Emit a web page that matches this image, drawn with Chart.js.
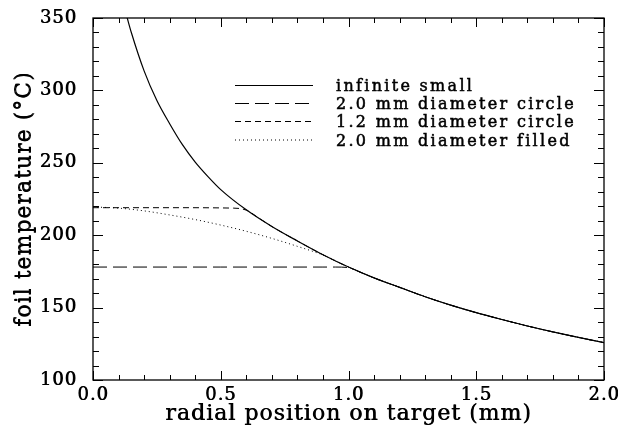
<!DOCTYPE html>
<html lang="en">
<head>
<meta charset="UTF-8">
<title>Foil temperature vs radial position</title>
<script src="https://cdn.jsdelivr.net/npm/chart.js"></script>
<style>
  body { margin: 0; background: #fff; }
</style>
</head>
<body>
<canvas id="foilChart" width="618" height="436"></canvas>
<script>
// values
const seriesLabels = ['infinite small', '2.0 mm diameter circle', '1.2 mm diameter circle', '2.0 mm diameter filled'];

const rInfinite = [0.12, 0.134, 0.15, 0.2, 0.25, 0.3, 0.35, 0.4, 0.45, 0.5, 0.6, 0.7, 0.8, 0.9, 1.0, 1.1, 1.2, 1.3, 1.4, 1.5, 1.6, 1.7, 1.8, 1.9, 2.0];
const tInfinite = [359, 350, 340, 313.5, 293, 277, 262.5, 250.5, 240.5, 231.5, 217.5, 206, 196, 186.5, 178, 170.5, 164, 157.5, 151.7, 146.5, 141.8, 137.3, 133.2, 129.4, 125.8];

const rCircle20 = [0, 0.5, 0.9, 0.95, 1.0, 1.05, 1.1, 1.2, 1.3, 1.4, 1.5, 1.6, 1.7, 1.8, 1.9, 2.0];
const tCircle20 = [178, 178, 178, 178, 177.6, 174.2, 170.5, 164, 157.5, 151.7, 146.5, 141.8, 137.3, 133.2, 129.4, 125.8];

const rCircle12 = [0, 0.3, 0.55, 0.6, 0.65, 0.7, 0.8, 0.9, 1.0, 1.1, 1.2, 1.3, 1.4, 1.5, 1.6, 1.7, 1.8, 1.9, 2.0];
const tCircle12 = [219, 219, 218.7, 217.3, 211.7, 206, 196, 186.5, 178, 170.5, 164, 157.5, 151.7, 146.5, 141.8, 137.3, 133.2, 129.4, 125.8];

const rFilled = [0, 0.1, 0.2, 0.3, 0.4, 0.5, 0.6, 0.7, 0.8, 0.9, 1.0, 1.1, 1.2, 1.3, 1.4, 1.5, 1.6, 1.7, 1.8, 1.9, 2.0];
const tFilled = [219.5, 218.7, 216.8, 214, 210.8, 207, 202.7, 197.8, 192.3, 186.3, 178, 170.5, 164, 157.5, 151.7, 146.5, 141.8, 137.3, 133.2, 129.4, 125.8];

const xMajor = 0.5, yMajor = 50;

const serif = 'DejaVu Serif';

function toPoints(xs, ys) {
    return xs.map((x, i) => ({ x: x, y: ys[i] }));
}

function isMajor(v, step) {
    return Math.abs(v / step - Math.round(v / step)) < 1e-6;
}

// frame round the plot and ticks pointing inward on all four sides
const frameTicks = {
    id: 'frameTicks',
    afterDatasetsDraw(chart) {
        const ctx = chart.ctx;
        const a = chart.chartArea;
        const xs = chart.scales.x, ys = chart.scales.y;
        ctx.save();
        ctx.strokeStyle = '#000';
        ctx.lineWidth = 1.3;
        ctx.strokeRect(a.left, a.top, a.right - a.left, a.bottom - a.top);
        ctx.lineWidth = 1;
        ctx.beginPath();
        xs.ticks.forEach(t => {
            const px = Math.round(xs.getPixelForValue(t.value)) + 0.5;
            const len = isMajor(t.value, xMajor) ? 9 : 5;
            ctx.moveTo(px, a.bottom); ctx.lineTo(px, a.bottom - len);
            ctx.moveTo(px, a.top); ctx.lineTo(px, a.top + len);
        });
        ys.ticks.forEach(t => {
            const py = Math.round(ys.getPixelForValue(t.value)) + 0.5;
            const len = isMajor(t.value, yMajor) ? 10 : 6;
            ctx.moveTo(a.left, py); ctx.lineTo(a.left + len, py);
            ctx.moveTo(a.right, py); ctx.lineTo(a.right - len, py);
        });
        ctx.stroke();
        ctx.restore();
    }
};

// legend inside the plot, like the original
const innerLegend = {
    id: 'innerLegend',
    afterDraw(chart) {
        const ctx = chart.ctx;
        const rows = [85.5, 103.5, 121.5, 140];
        ctx.save();
        ctx.font = '16px "' + serif + '"';
        ctx.letterSpacing = '2.3px';
        ctx.fillStyle = '#000';
        ctx.strokeStyle = '#000';
        ctx.textBaseline = 'alphabetic';
        chart.data.datasets.forEach((ds, i) => {
            const y = rows[i];
            ctx.lineWidth = 1;
            ctx.setLineDash(ds.borderDash || []);
            ctx.beginPath();
            ctx.moveTo(235, y);
            ctx.lineTo(313, y);
            ctx.stroke();
            ctx.setLineDash([]);
            ctx.lineWidth = 0.5;
            ctx.fillText(ds.label, 336, y + 5.5);
            ctx.strokeText(ds.label, 336, y + 5.5);
        });
        ctx.restore();
    }
};

// wider, slightly heavier axis text (closer to the original typeface)
const axisText = {
    id: 'axisText',
    beforeDraw(chart) {
        const ctx = chart.ctx;
        ctx.letterSpacing = '1px';
        ctx.shadowColor = '#000';
        ctx.shadowOffsetX = 0.6;
        ctx.shadowBlur = 0;
    },
    beforeDatasetsDraw(chart) {
        const ctx = chart.ctx;
        ctx.shadowColor = 'rgba(0,0,0,0)';
        ctx.shadowOffsetX = 0;
        ctx.letterSpacing = '0px';
    }
};

const line = { borderColor: '#000', borderWidth: 1, pointRadius: 0, fill: false, cubicInterpolationMode: 'monotone' };

new Chart(document.getElementById('foilChart'), {
    type: 'line',
    data: {
        datasets: [
            Object.assign({ label: seriesLabels[0], data: toPoints(rInfinite, tInfinite) }, line, { borderWidth: 1.2 }),
            Object.assign({ label: seriesLabels[1], data: toPoints(rCircle20, tCircle20), borderDash: [14, 6] }, line),
            Object.assign({ label: seriesLabels[2], data: toPoints(rCircle12, tCircle12), borderDash: [6, 4] }, line),
            Object.assign({ label: seriesLabels[3], data: toPoints(rFilled, tFilled), borderDash: [1, 3] }, line)
        ]
    },
    options: {
        responsive: false,
        animation: false,
        layout: { padding: { top: 18, right: 14, left: 0, bottom: 0 } },
        plugins: { legend: { display: false }, tooltip: { enabled: false } },
        scales: {
            x: {
                type: 'linear',
                min: 0,
                max: 2,
                afterFit: s => { s.height = 56; s.paddingLeft = 0; s.paddingRight = 0; },
                grid: { display: false, drawTicks: false },
                border: { display: false },
                ticks: {
                    stepSize: 0.1,
                    autoSkip: false,
                    maxRotation: 0,
                    padding: 5,
                    color: '#000',
                    font: { family: serif, size: 18 },
                    callback: v => isMajor(v, xMajor) ? v.toFixed(1) : ''
                },
                title: {
                    display: true,
                    text: 'radial position on target (mm)',
                    color: '#000',
                    font: { family: serif, size: 22 },
                    padding: { top: 0, bottom: 9 }
                }
            },
            y: {
                min: 100,
                max: 350,
                afterFit: s => { s.width = 93; s.paddingTop = 0; s.paddingBottom = 0; },
                grid: { display: false, drawTicks: false },
                border: { display: false },
                ticks: {
                    stepSize: 10,
                    autoSkip: false,
                    padding: 16,
                    color: '#000',
                    font: { family: serif, size: 18 },
                    callback: v => isMajor(v, yMajor) ? String(v) : ''
                },
                title: {
                    display: true,
                    text: 'foil temperature (°C)',
                    color: '#000',
                    font: { family: serif, size: 22 },
                    padding: { top: 11, bottom: 0 }
                }
            }
        }
    },
    plugins: [axisText, frameTicks, innerLegend]
});
</script>
</body>
</html>
